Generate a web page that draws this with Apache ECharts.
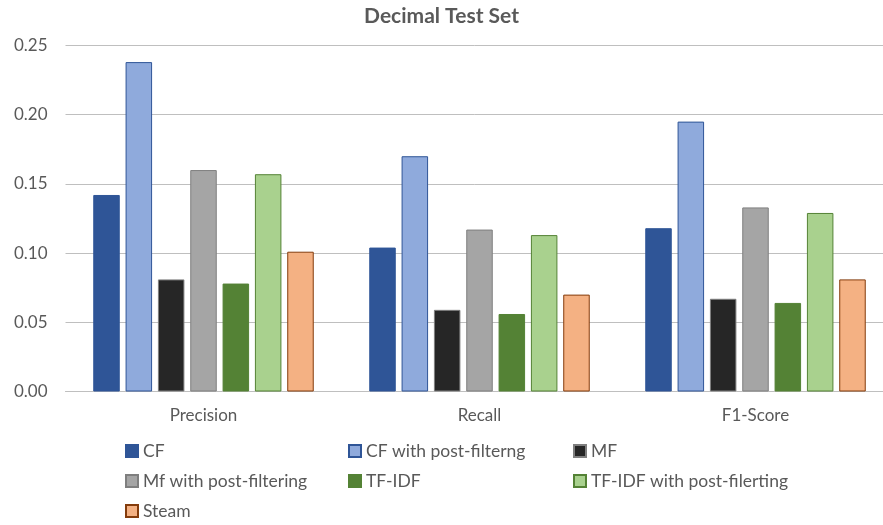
<!DOCTYPE html>
<html><head><meta charset="utf-8">
<script src="https://cdn.jsdelivr.net/npm/echarts@6/dist/echarts.min.js"></script>
<style>html,body{margin:0;padding:0;background:#fff}#c{width:883px;height:525px}</style>
</head><body><div id="c"></div>
<script>
const categories = ['Precision', 'Recall', 'F1-Score'];
const seriesNames = ['CF', 'CF with post-filterng', 'MF', 'Mf with post-filtering', 'TF-IDF', 'TF-IDF with post-filerting', 'Steam'];
const cf = [0.142, 0.104, 0.118];
const cfPost = [0.238, 0.170, 0.195];
const mf = [0.081, 0.059, 0.067];
const mfPost = [0.160, 0.117, 0.133];
const tfidf = [0.078, 0.056, 0.064];
const tfidfPost = [0.157, 0.113, 0.129];
const steam = [0.101, 0.070, 0.081];
const seriesValues = [cf, cfPost, mf, mfPost, tfidf, tfidfPost, steam];

const fills = ['#2F5597', '#8FAADC', '#262626', '#A5A5A5', '#548235', '#A9D18E', '#F4B183'];
const borders = ['#2F5597', '#2F5597', '#7F7F7F', '#7F7F7F', '#548235', '#548235', '#843C0C'];
const FONT = 'Lato, "Liberation Sans", sans-serif';
const legendPos = [
  [125, 442], [348, 442], [573, 442],
  [125, 472], [348, 472], [573, 472],
  [125, 502]
];

const chart = echarts.init(document.getElementById('c'), null, {renderer: 'canvas'});
chart.setOption({
  animation: false,
  backgroundColor: '#fff',
  textStyle: {fontFamily: FONT},
  title: {
    text: 'Decimal Test Set', left: 'center', top: 1,
    textStyle: {fontFamily: FONT, fontSize: 21, fontWeight: 'bold', color: '#595959'}
  },
  legend: seriesNames.map((n, i) => ({
    data: [n], left: legendPos[i][0], top: legendPos[i][1],
    itemWidth: 12, itemHeight: 12, itemGap: 4, padding: 0, icon: 'rect',
    textStyle: {fontFamily: FONT, fontSize: 17.5, color: '#595959', padding: [0, 0, 0, 0]}
  })),
  grid: {left: 65.5, top: 45.5, width: 828, height: 346, containLabel: false, outerBoundsMode: 'none'},
  xAxis: {
    type: 'category', data: categories,
    axisLine: {lineStyle: {color: '#BFBFBF', width: 1}},
    axisTick: {show: false},
    axisLabel: {color: '#595959', fontSize: 17, fontFamily: FONT, margin: 16}
  },
  yAxis: {
    type: 'value', min: 0, max: 0.25, interval: 0.05,
    axisLine: {show: false}, axisTick: {show: false},
    splitLine: {lineStyle: {color: '#BFBFBF', width: 1}},
    axisLabel: {color: '#595959', fontSize: 17, fontFamily: FONT, margin: 18,
      formatter: v => v.toFixed(2)}
  },
  series: seriesNames.map((n, i) => ({
    name: n, type: 'bar', data: seriesValues[i],
    barWidth: 26.5, barGap: '22%',
    itemStyle: {color: fills[i], borderColor: borders[i], borderWidth: 1}
  }))
});
</script></body></html>
